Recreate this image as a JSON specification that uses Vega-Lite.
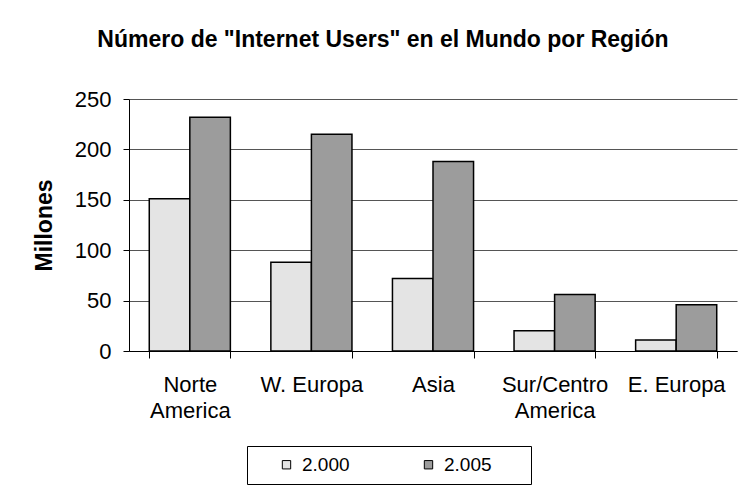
{
  "$schema": "https://vega.github.io/schema/vega-lite/v6.json",
  "autosize": {"type": "none"},
  "width": 608,
  "height": 252,
  "padding": {"left": 129, "top": 99, "right": 3, "bottom": 136},
  "background": "white",
  "title": {
    "text": "Número de \"Internet Users\" en el Mundo por Región",
    "font": "Liberation Sans",
    "fontSize": 23,
    "fontWeight": "bold",
    "color": "black",
    "anchor": "middle",
    "frame": "group",
    "dx": -50,
    "offset": 36
  },
  "data": {
    "values": [
      {"region": "Norte America", "year": "2.000", "users": 151},
      {"region": "Norte America", "year": "2.005", "users": 232},
      {"region": "W. Europa", "year": "2.000", "users": 88},
      {"region": "W. Europa", "year": "2.005", "users": 215},
      {"region": "Asia", "year": "2.000", "users": 72},
      {"region": "Asia", "year": "2.005", "users": 188},
      {"region": "Sur/Centro America", "year": "2.000", "users": 20},
      {"region": "Sur/Centro America", "year": "2.005", "users": 56},
      {"region": "E. Europa", "year": "2.000", "users": 11},
      {"region": "E. Europa", "year": "2.005", "users": 46}
    ]
  },
  "mark": {"type": "bar", "stroke": "black", "strokeWidth": 1.5},
  "encoding": {
    "x": {
      "field": "region",
      "type": "nominal",
      "sort": null,
      "scale": {"paddingInner": 0.333, "paddingOuter": 0.1667},
      "axis": {
        "title": null,
        "labelAngle": 0,
        "labelFont": "Liberation Sans",
        "labelFontSize": 22,
        "labelColor": "black",
        "labelPadding": 16,
        "labelLineHeight": 26,
        "labelExpr": "indexof(datum.label, ' America') > 0 ? split(datum.label, ' ') : datum.label",
        "tickBand": "extent",
        "tickSize": 7,
        "tickColor": "black",
        "domainColor": "black",
        "grid": false
      }
    },
    "xOffset": {"field": "year", "type": "nominal", "scale": {"paddingInner": 0, "paddingOuter": 0}},
    "y": {
      "field": "users",
      "type": "quantitative",
      "scale": {"domain": [0, 250], "nice": false},
      "axis": {
        "title": "Millones",
        "titleFont": "Liberation Sans",
        "titleFontSize": 23,
        "titleFontWeight": "bold",
        "titleColor": "black",
        "titlePadding": 18,
        "values": [0, 50, 100, 150, 200, 250],
        "labelFont": "Liberation Sans",
        "labelFontSize": 22,
        "labelColor": "black",
        "labelPadding": 12,
        "tickSize": 6,
        "tickColor": "black",
        "domainColor": "black",
        "gridColor": "#555555",
        "gridOpacity": 1
      }
    },
    "color": {
      "field": "year",
      "type": "nominal",
      "scale": {"domain": ["2.000", "2.005"], "range": ["#e4e4e4", "#9c9c9c"]},
      "legend": {
        "title": "\u00a0",
        "titleOrient": "right",
        "titleFontSize": 19,
        "titlePadding": 30,
        "orient": "none",
        "legendX": 118,
        "legendY": 347,
        "direction": "horizontal",
        "columns": 2,
        "symbolType": "square",
        "symbolSize": 70,
        "symbolStrokeColor": "black",
        "symbolStrokeWidth": 1,
        "symbolOffset": 21,
        "labelFont": "Liberation Sans",
        "labelFontSize": 19,
        "labelColor": "black",
        "labelOffset": 6,
        "columnPadding": 48,
        "padding": 9,
        "strokeColor": "black",
        "fillColor": "white"
      }
    }
  },
  "config": {
    "view": {"stroke": null},
    "axis": {"domainWidth": 1, "tickWidth": 1, "gridWidth": 1}
  }
}
